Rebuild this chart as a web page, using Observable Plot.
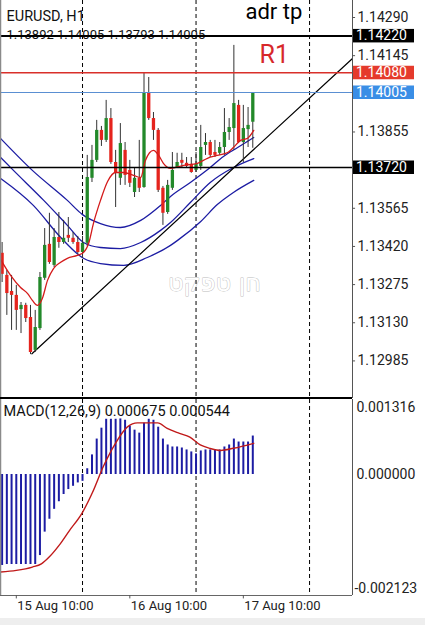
<!DOCTYPE html>
<html><head><meta charset="utf-8">
<script src="https://cdn.jsdelivr.net/npm/d3@7"></script>
<script src="https://cdn.jsdelivr.net/npm/@observablehq/plot@0.6"></script>
<style>
html,body{margin:0;padding:0;background:#fff;}
body{width:425px;height:625px;overflow:hidden;position:relative;font-family:Roboto,"Noto Sans",sans-serif;}
#main{position:absolute;left:0;top:0;}
#macd{position:absolute;left:0;top:398px;}
#sep{position:absolute;left:0;top:397px;width:352px;height:2px;background:#000;}
#strip{position:absolute;left:0;top:618px;width:425px;height:7px;background:#eeeeee;}
</style></head><body>
<div id="main"></div><div id="macd"></div><div id="sep"></div><div id="strip"></div>
<script>
// ---------- data ----------
const hours = [7,8,9,10,11,12, 13,14,15,16,17,18, 19,20,21,22,23,24, 25,26,27,28,29,30,
  31,32,33,34,35,36, 37,38,39,40,41,42, 43,44,45,46,47,48, 49,50,51,52,53,54, 55,56,57,58,59,60];
const open = [1.13394,1.13310,1.13249,1.13234,1.13180,1.13196,
  1.13150,1.13025,1.13108,1.13299,1.13428,1.13348,
  1.13454,1.13435,1.13462,1.13451,1.13435,1.13397,
  1.13432,1.13679,1.13747,1.13861,1.13823,1.13906,
  1.13739,1.13679,1.13785,1.13709,1.13625,1.13679,
  1.13644,1.14005,1.13906,1.13861,1.13641,1.13549,
  1.13641,1.13720,1.13747,1.13736,1.13732,1.13709,
  1.13724,1.13804,1.13815,1.13777,1.13774,1.13796,
  1.13853,1.13868,1.13956,1.13815,1.13864,1.13892];
const high = [1.13435,1.13329,1.13310,1.13272,1.13207,1.13204,
  1.13196,1.13177,1.13321,1.13488,1.13546,1.13488,
  1.13549,1.13519,1.13530,1.13473,1.13458,1.13458,
  1.13766,1.13804,1.13899,1.13876,1.13975,1.13944,
  1.13785,1.13887,1.13815,1.13747,1.13720,1.13823,
  1.14081,1.14062,1.13929,1.13868,1.13648,1.13671,
  1.13777,1.13774,1.13774,1.13758,1.13758,1.13777,
  1.13880,1.13849,1.13823,1.13823,1.13815,1.13944,
  1.13906,1.14184,1.13975,1.13956,1.13948,1.14005];
const low = [1.13283,1.13158,1.13101,1.13101,1.13089,1.13131,
  1.13009,1.13017,1.13101,1.13291,1.13352,1.13340,
  1.13413,1.13428,1.13435,1.13428,1.13390,1.13375,
  1.13420,1.13663,1.13739,1.13800,1.13815,1.13732,
  1.13568,1.13652,1.13652,1.13644,1.13606,1.13625,
  1.13641,1.13899,1.13823,1.13625,1.13500,1.13542,
  1.13633,1.13717,1.13720,1.13717,1.13698,1.13701,
  1.13709,1.13766,1.13758,1.13758,1.13766,1.13766,
  1.13823,1.13785,1.13811,1.13739,1.13796,1.13793];
const close = [1.13314,1.13241,1.13234,1.13177,1.13196,1.13146,
  1.13017,1.13112,1.13302,1.13424,1.13359,1.13454,
  1.13435,1.13451,1.13451,1.13435,1.13397,1.13432,
  1.13682,1.13747,1.13861,1.13823,1.13906,1.13739,
  1.13698,1.13811,1.13690,1.13660,1.13679,1.13641,
  1.14005,1.13906,1.13861,1.13633,1.13546,1.13652,
  1.13709,1.13739,1.13736,1.13724,1.13701,1.13732,
  1.13796,1.13815,1.13766,1.13766,1.13796,1.13853,
  1.13872,1.13963,1.13815,1.13868,1.13880,1.14005];

// red moving average [hour, price]
const redMA = [[6.7,1.13370],[8.8,1.13310],[10.9,1.13264],[12.4,1.13241],[13.4,1.13215],[14.5,1.13196],
  [15.5,1.13222],[16.6,1.13291],[17.9,1.13337],[19.3,1.13359],[20.8,1.13375],[22.9,1.13386],
  [24.2,1.13397],[25.3,1.13432],[26.3,1.13507],[27.8,1.13595],[29.3,1.13667],[31,1.13701],
  [32.7,1.13701],[34.8,1.13690],[36.3,1.13682],[37.3,1.13747],[39,1.13785],[40.1,1.13766],
  [41.1,1.13736],[42.6,1.13717],[45.4,1.13728],[48.3,1.13736],[50.4,1.13755],[52.5,1.13766],
  [54.7,1.13777],[55.9,1.13796],[57.4,1.13823],[58.9,1.13831],[60.2,1.13861]];
// blue channel lines [hour, price]
const blueUpper = [[6.7,1.13830],[13.4,1.13709],[20.8,1.13595],[24,1.13541],[27.8,1.13507],[32,1.13492],
  [36.3,1.13519],[40.5,1.13576],[42.6,1.13610],[46.8,1.13663],[51,1.13720],[53.8,1.13762],[56.8,1.13796],[60.2,1.13834]];
const blueMiddle = [[6.7,1.13758],[9.4,1.13709],[15.8,1.13595],[20.8,1.13500],[24.2,1.13435],[27.8,1.13416],
  [32,1.13412],[36.3,1.13435],[40.5,1.13481],[42.6,1.13511],[46.8,1.13587],[51,1.13663],[55.9,1.13720],[60.2,1.13754]];
const blueLower = [[6.7,1.13678],[13.6,1.13576],[19.4,1.13454],[24.2,1.13375],[27.8,1.13355],[32.7,1.13348],
  [37.7,1.13378],[42.6,1.13424],[44.1,1.13443],[49,1.13515],[52.5,1.13579],[55.9,1.13625],[60.2,1.13671]];
// trend line
const trendHours = [13.3, 81.08];
const trendPrices = [1.13012, 1.14134];

// horizontal levels
const levelPrices = [1.14220, 1.14080, 1.14005, 1.13720];
const levelLineColors = ["#000000", "#d9302a", "#5a8fd2", "#000000"];
const levelLineWidths = [2, 1.5, 1, 1.5];
const levelBoxColors = ["#000000", "#e53a2c", "#3a8ee6", "#000000"];

const priceTicks = [1.14290, 1.14145, 1.13855, 1.13565, 1.13420, 1.13275, 1.13130, 1.12985];
const daySeparators = [24, 48, 72];

// MACD
const macdHist = [-0.001596,-0.001579,-0.001579,-0.001579,-0.001579,-0.001579,
  -0.001579,-0.001579,-0.001422,-0.001011,-0.000785,-0.000611,
  -0.000478,-0.000351,-0.000264,-0.000207,-0.000148,-0.000120,
  0.000101,0.000344,0.000622,0.000813,0.000969,0.000969,
  0.000969,0.000975,0.000952,0.000848,0.000778,0.000726,
  0.000900,0.000969,0.000952,0.000830,0.000622,0.000518,
  0.000483,0.000483,0.000465,0.000431,0.000396,0.000361,
  0.000413,0.000431,0.000431,0.000431,0.000431,0.000483,
  0.000518,0.000622,0.000570,0.000570,0.000570,0.000675];
const macdSignal = [[6.7,-0.001711],[10,-0.001683],[13.4,-0.001624],[15.3,-0.001567],[17,-0.001445],
  [19,-0.001249],[21.2,-0.000988],[24,-0.000663],[26.1,-0.000316],[28.4,0.000141],[31,0.000552],
  [33.5,0.000835],[35.6,0.000905],[39.9,0.000905],[41.9,0.000808],[44.5,0.000721],[46.7,0.000656],
  [48.9,0.000518],[51,0.000457],[53.2,0.000422],[55.9,0.000460],[60.2,0.000547]];
const macdTop = 0.001316, macdZero = 0, macdBottom = -0.002123;

const xTickHours = [10, 34, 58];
const xTickLabels = ["15 Aug 10:00", "16 Aug 10:00", "17 Aug 10:00"];

// ---------- chart ----------
const FONT = "Roboto, 'Noto Sans', sans-serif";
const xDomain = [6.66, 81.08];
const priceDomain = [1.128422, 1.143546];
const GREEN = "#23892a", RED = "#e5241d", WICK = "#333333", NAVY = "#1c1ca3";

const bars = hours.map((h, i) => ({h, o: open[i], hi: high[i], lo: low[i], c: close[i]}));
const toPts = a => a.map(([h, p]) => ({h, p}));

const levelMarks = levelPrices.map((v, i) =>
  Plot.ruleY([v], {stroke: levelLineColors[i], strokeWidth: levelLineWidths[i]}));

const mainChart = Plot.plot({
  width: 425, height: 398,
  marginLeft: 0, marginRight: 73, marginTop: 0, marginBottom: 0,
  x: {domain: xDomain, axis: null},
  y: {domain: priceDomain, axis: null},
  style: {fontFamily: FONT, background: "transparent", overflow: "visible"},
  marks: [
    Plot.text([{t: "חן טפקט", h: 51.9, p: 1.13279}], {x: "h", y: "p", text: "t", fontSize: 24,
      fontFamily: "'DejaVu Sans', sans-serif", fill: "white", stroke: "#bdbdbd", strokeWidth: 0.9}),
    Plot.ruleX(daySeparators, {x: d => d, stroke: "#000", strokeWidth: 1, strokeDasharray: "4,3"}),
    Plot.line(toPts(blueUpper), {x: "h", y: "p", stroke: NAVY, strokeWidth: 1.3, curve: "monotone-x", clip: true}),
    Plot.line(toPts(blueMiddle), {x: "h", y: "p", stroke: NAVY, strokeWidth: 1.3, curve: "monotone-x", clip: true}),
    Plot.line(toPts(blueLower), {x: "h", y: "p", stroke: NAVY, strokeWidth: 1.3, curve: "monotone-x", clip: true}),
    Plot.line(trendHours.map((h, i) => ({h, p: trendPrices[i]})), {x: "h", y: "p", stroke: "#000", strokeWidth: 1.2}),
    Plot.ruleX(bars, {x: "h", y1: "lo", y2: "hi", stroke: WICK, strokeWidth: 1}),
    Plot.ruleX(bars, {x: "h", y1: "o", y2: "c", stroke: d => d.c >= d.o ? GREEN : RED, strokeWidth: 3.3}),
    Plot.line(toPts(redMA), {x: "h", y: "p", stroke: "#d41b1b", strokeWidth: 1.3, curve: "monotone-x", clip: true}),
    Plot.text(["EURUSD, H1"], {frameAnchor: "top-left", dx: 6, dy: 10, lineAnchor: "top", textAnchor: "start",
      fontSize: 14.5, fill: "#111"}),
    Plot.text(["1.13892 1.14005 1.13793 1.14005"], {frameAnchor: "top-left", dx: 6, dy: 29, lineAnchor: "top",
      textAnchor: "start", fontSize: 13, fill: "#111"}),
    ...levelMarks,
    Plot.text(["adr tp"], {frameAnchor: "top-left", dx: 245, dy: 3, lineAnchor: "top", textAnchor: "start",
      fontSize: 22, fill: "#000"}),
    Plot.text(["R1"], {frameAnchor: "top-left", dx: 259, dy: 45, lineAnchor: "top", textAnchor: "start",
      fontSize: 25, fill: "#d7282a"}),
    Plot.ruleX([xDomain[0]], {stroke: "#8a8a8a", strokeWidth: 1.5}),
    Plot.ruleX([xDomain[1]], {stroke: "#555", strokeWidth: 1}),
    Plot.ruleY(priceTicks, {y: d => d, x1: xDomain[1], x2: xDomain[1] + 0.65, stroke: "#555"}),
    Plot.text(priceTicks, {y: d => d, text: d => d.toFixed(5), frameAnchor: "right", dx: 5,
      textAnchor: "start", fontSize: 14, fill: "#222"})
  ]
});
document.getElementById("main").appendChild(mainChart);

// level label boxes through the plot's y scale
(function () {
  let yApply;
  try { const s = mainChart.scale("y"); yApply = s.apply ? (v => s.apply(v)) : null; } catch (e) {}
  if (!yApply) { const s = d3.scaleLinear().domain(priceDomain).range([398, 0]); yApply = v => s(v); }
  const svg = d3.select(mainChart.tagName.toLowerCase() === "svg" ? mainChart : mainChart.querySelector("svg"));
  levelPrices.forEach((v, i) => {
    const y = yApply(v);
    svg.append("rect").attr("x", 353).attr("y", y - 6.5).attr("width", 61).attr("height", 13.5)
      .attr("fill", levelBoxColors[i]);
    svg.append("text").attr("x", 356).attr("y", y).attr("dy", "0.36em").attr("fill", "#fff")
      .attr("text-anchor", "start").attr("font-size", 14).attr("font-family", FONT).text(v.toFixed(5));
  });
})();

const histData = hours.map((h, i) => ({h, v: macdHist[i]}));
const macdLabels = [
  {v: macdTop, t: macdTop.toFixed(6)},
  {v: macdZero, t: macdZero.toFixed(6)},
  {v: macdBottom, t: macdBottom.toFixed(6)}
];
const xTicks = xTickHours.map((h, i) => ({h, label: xTickLabels[i]}));

const macdChart = Plot.plot({
  width: 425, height: 222,
  marginLeft: 0, marginRight: 73, marginTop: 1, marginBottom: 25,
  x: {domain: xDomain, axis: null},
  y: {domain: [macdBottom, macdTop], axis: null},
  style: {fontFamily: FONT, background: "transparent", overflow: "visible"},
  marks: [
    Plot.ruleX(daySeparators, {x: d => d, stroke: "#000", strokeWidth: 1, strokeDasharray: "4,3"}),
    Plot.ruleX(histData, {x: "h", y1: 0, y2: "v", stroke: NAVY, strokeWidth: 2}),
    Plot.line(toPts(macdSignal), {x: "h", y: "p", stroke: "#c01a1a", strokeWidth: 1.4, curve: "monotone-x", clip: true}),
    Plot.ruleX([xDomain[0]], {stroke: "#8a8a8a", strokeWidth: 1.5}),
    Plot.ruleX([xDomain[1]], {stroke: "#555", strokeWidth: 1}),
    Plot.ruleY([macdBottom], {stroke: "#666", strokeWidth: 1}),
    Plot.text(["MACD(12,26,9) 0.000675 0.000544"], {frameAnchor: "top-left", dx: 3, dy: 6, lineAnchor: "top",
      textAnchor: "start", fontSize: 14.5, fill: "#111"}),
    Plot.text([macdLabels[0]], {y: "v", text: "t", frameAnchor: "right", dx: 4, dy: 3, lineAnchor: "top",
      textAnchor: "start", fontSize: 14, fill: "#222"}),
    Plot.text([macdLabels[1]], {y: "v", text: "t", frameAnchor: "right", dx: 4, textAnchor: "start",
      fontSize: 14, fill: "#222"}),
    Plot.text([macdLabels[2]], {y: "v", text: "t", frameAnchor: "right", dx: 2, dy: -3, lineAnchor: "bottom",
      textAnchor: "start", fontSize: 14, fill: "#222"}),
    Plot.ruleX(xTicks, {x: "h", y1: macdBottom, y2: macdBottom - 0.00006, stroke: "#555"}),
    Plot.text(xTicks, {x: "h", text: "label", frameAnchor: "bottom", dx: 1, dy: 5, lineAnchor: "top",
      textAnchor: "start", fontSize: 13, fill: "#222"})
  ]
});
document.getElementById("macd").appendChild(macdChart);
</script>
</body></html>
